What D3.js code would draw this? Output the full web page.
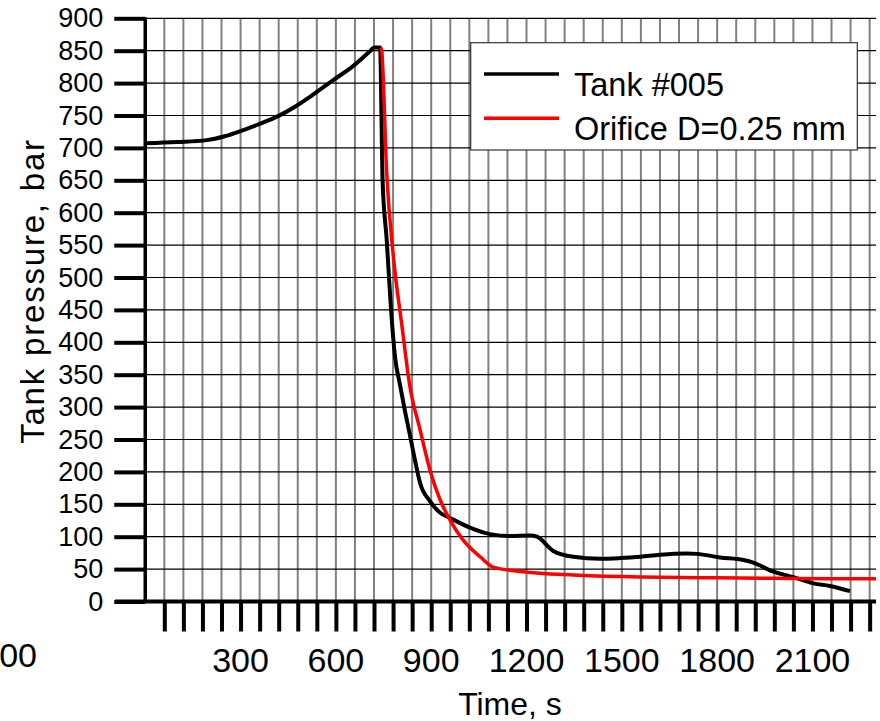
<!DOCTYPE html>
<html>
<head>
<meta charset="utf-8">
<script src="https://cdn.jsdelivr.net/npm/d3@7"></script>
<style>
  html, body { margin: 0; padding: 0; background: #fff; }
  svg { display: block; font-family: "Liberation Sans", Arial, sans-serif; }
</style>
</head>
<body>
<svg id="chart" width="880" height="721"></svg>
<script>
// Measured tank pressure (bar) against time (s)
const tankTime = [0, 100, 194, 250, 300, 360, 426, 470, 510, 550, 593, 656, 709, 720, 739,
  747, 760, 773, 786, 802, 817, 833, 849, 865, 896, 928, 959, 1022, 1085, 1148, 1211, 1233, 1284,
  1347, 1432, 1494, 1558, 1620, 1704, 1736, 1809, 1883, 1914, 1977, 2040, 2103, 2155, 2218];
const tankPressure = [707, 709, 712, 718, 726, 737, 751, 763, 776, 790, 805, 827, 850, 855, 855,
  650, 558, 455, 378, 334, 295, 257, 218, 183, 155, 137, 129, 114, 104, 101, 102, 100, 78,
  69, 66, 67, 69, 72, 74, 73.5, 68, 64, 60, 46, 37.5, 28, 24, 16];

// Model: discharge through a 0.25 mm orifice
const orificeTime = [741, 744, 760, 781, 807, 833, 865, 896, 928, 959, 1000, 1054, 1095,
  1189, 1347, 1558, 1800, 2050, 2300];
const orificePressure = [855, 851, 661, 532, 429, 332, 265, 203, 157, 126, 95, 69, 53,
  46, 41, 38, 36.5, 35.5, 35];

const seriesNames = ["Tank #005", "Orifice D=0.25 mm"];
const seriesColors = ["#000000", "#ff0000"];

const yTicks = d3.range(0, 901, 50);
const xMinorTicks = d3.range(60, 2281, 60);
const xLabelTicks = [300, 600, 900, 1200, 1500, 1800, 2100];

const svg = d3.select("#chart");
const x = d3.scaleLinear().domain([0, 2300]).range([145.25, 876]);
const y = d3.scaleLinear().domain([0, 900]).range([601.5, 18.3]);

// Grid: grey verticals every 60 s, thin black horizontals every 50 bar
svg.append("g").selectAll("line").data(xMinorTicks).join("line")
  .attr("x1", d => x(d)).attr("x2", d => x(d))
  .attr("y1", y(900)).attr("y2", y(0))
  .attr("stroke", "#808080").attr("stroke-width", 2);

svg.append("g").selectAll("line").data(yTicks.filter(d => d > 0)).join("line")
  .attr("x1", x(0)).attr("x2", x(2300))
  .attr("y1", d => y(d)).attr("y2", d => y(d))
  .attr("stroke", "#000").attr("stroke-width", 1.2);

// Y axis: ticks pointing left of the axis line
const yAxis = d3.axisLeft(y).tickValues(yTicks).tickSize(31).tickPadding(11)
  .tickFormat(d3.format("d"));
const gy = svg.append("g").attr("transform", `translate(${x(0)},0)`).call(yAxis);
gy.select(".domain").remove();
gy.selectAll(".tick line").attr("stroke", "#000").attr("stroke-width", 4);
gy.selectAll(".tick text").attr("font-size", 27).attr("fill", "#000")
  .attr("font-family", "Liberation Sans, Arial, sans-serif");
svg.append("line")
  .attr("x1", x(0)).attr("x2", x(0)).attr("y1", y(900) - 1).attr("y2", y(0))
  .attr("stroke", "#000").attr("stroke-width", 3.5);

// X axis: minor ticks below the line, labels every 300 s
const xAxis = d3.axisBottom(x).tickValues(xMinorTicks).tickSize(30).tickFormat("");
const gx = svg.append("g").attr("transform", `translate(0,${y(0)})`).call(xAxis);
gx.select(".domain").remove();
gx.selectAll(".tick line").attr("stroke", "#000").attr("stroke-width", 4);
svg.append("line")
  .attr("x1", 115).attr("x2", x(2300)).attr("y1", y(0)).attr("y2", y(0))
  .attr("stroke", "#000").attr("stroke-width", 4);

svg.append("g").selectAll("text").data(xLabelTicks).join("text")
  .attr("x", d => x(d)).attr("y", 672)
  .attr("text-anchor", "middle").attr("font-size", 34).attr("fill", "#000")
  .text(d => d);
svg.append("text").attr("x", 37).attr("y", 667)
  .attr("text-anchor", "end").attr("font-size", 34).attr("fill", "#000")
  .text("00");

// Axis titles
svg.append("text").attr("x", 510).attr("y", 715)
  .attr("text-anchor", "middle").attr("font-size", 32).attr("fill", "#000")
  .text("Time, s");
svg.append("text")
  .attr("transform", "translate(44,291) rotate(-90)")
  .attr("text-anchor", "middle").attr("font-size", 33).attr("fill", "#000")
  .attr("letter-spacing", 1.8)
  .text("Tank pressure, bar");

// Curves
const line = d3.line().x(d => x(d[0])).y(d => y(d[1])).curve(d3.curveMonotoneX);
const tankData = tankTime.map((t, i) => [t, tankPressure[i]]);
const orificeData = orificeTime.map((t, i) => [t, orificePressure[i]]);

svg.append("path").datum(tankData).attr("d", line)
  .attr("fill", "none").attr("stroke", seriesColors[0]).attr("stroke-width", 4)
  .attr("stroke-linejoin", "round");
svg.append("path").datum(orificeData).attr("d", line)
  .attr("fill", "none").attr("stroke", seriesColors[1]).attr("stroke-width", 3.5)
  .attr("stroke-linejoin", "round");

// Legend
const lg = svg.append("g");
lg.append("rect").attr("x", 470.7).attr("y", 42.7).attr("width", 386.6).attr("height", 107.3)
  .attr("fill", "#fff").attr("stroke", "#333").attr("stroke-width", 1.2);
seriesNames.forEach((name, i) => {
  const ly = 74 + i * 44.3;
  lg.append("line").attr("x1", 484).attr("x2", 559).attr("y1", ly).attr("y2", ly)
    .attr("stroke", seriesColors[i]).attr("stroke-width", 3.5);
  lg.append("text").attr("x", 574).attr("y", ly + 21.5).attr("font-size", 32.5)
    .attr("fill", "#000").text(name);
});
</script>
</body>
</html>
